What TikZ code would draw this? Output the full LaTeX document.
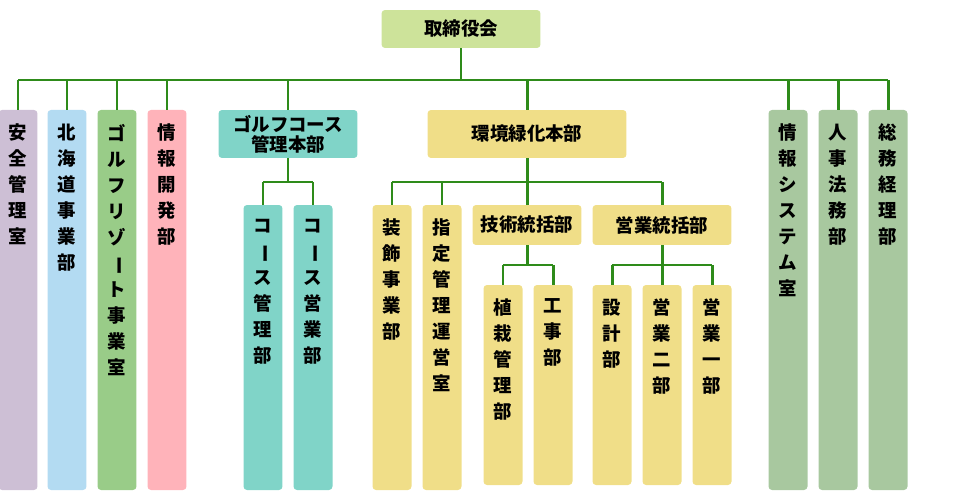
\documentclass[tikz,border=0pt]{standalone}
\usepackage{fontspec}
\setmainfont{Noto Sans CJK JP}
\definecolor{boardgreen}{RGB}{205, 227, 154}
\definecolor{safelilac}{RGB}{205, 191, 213}
\definecolor{hokkaiblue}{RGB}{179, 219, 242}
\definecolor{resortgreen}{RGB}{153, 204, 136}
\definecolor{infopink}{RGB}{255, 179, 186}
\definecolor{courseteal}{RGB}{128, 212, 200}
\definecolor{envyellow}{RGB}{240, 222, 136}
\definecolor{staffsage}{RGB}{168, 200, 159}
\definecolor{linegreen}{RGB}{46, 139, 26}
\usetikzlibrary{positioning, calc}
\newcommand{\vbar}{\rotatebox[origin=c]{-90}{ー}}
% column box: name, x, top, bottom, colour, text
\newcommand{\orgcol}[6]{%
  \node[colbox, fill=#5, minimum height={(#4-#3)*0.02cm}] (#1) at (#2,{(#3+#4)/2}) {};
  \node[coltext] (#1t) at ([yshift=-0.16cm]#1.north) {#6};}
\begin{document}
\begin{tikzpicture}[x=0.02cm, y=-0.02cm,
  colbox/.style={rounded corners=2pt, minimum width=0.78cm, inner sep=0pt},
  coltext/.style={anchor=north, align=center, font=\fontsize{10.5}{14.8}\selectfont\bfseries},
  headbox/.style={rounded corners=2pt, inner sep=0pt, align=center,
    font=\fontsize{10.5}{11.5}\selectfont\bfseries},
  conn/.style={linegreen, line width=1.7pt}]
\useasboundingbox (0,0) rectangle (960,500);

% Board
\node[headbox, fill=boardgreen, minimum width=3.18cm, minimum height=0.76cm] (board) at (461,29) {取締役会};

% First level columns
\orgcol{safe}{18}{110}{490}{safelilac}{安\\全\\管\\理\\室}
\orgcol{hokkai}{67}{110}{490}{hokkaiblue}{北\\海\\道\\事\\業\\部}
\orgcol{resort}{117}{110}{490}{resortgreen}{ゴ\\ル\\フ\\リ\\ゾ\\\vbar\\ト\\事\\業\\室}
\orgcol{infodev}{167}{110}{490}{infopink}{情\\報\\開\\発\\部}
\node[headbox, fill=courseteal, minimum width=2.78cm, minimum height=0.96cm] (course) at (288,134) {ゴルフコース\\管理本部};
\node[headbox, fill=envyellow, minimum width=3.98cm, minimum height=0.96cm] (env) at (527,134) {環境緑化本部};
\orgcol{infosys}{788}{110}{490}{staffsage}{情\\報\\シ\\ス\\テ\\ム\\室}
\orgcol{legal}{838}{110}{490}{staffsage}{人\\事\\法\\務\\部}
\orgcol{general}{888}{110}{490}{staffsage}{総\\務\\経\\理\\部}

% Golf course divisions
\orgcol{cmanage}{263}{205}{490}{courseteal}{コ\\\vbar\\ス\\管\\理\\部}
\orgcol{csales}{313}{205}{490}{courseteal}{コ\\\vbar\\ス\\営\\業\\部}

% Environment divisions
\orgcol{decor}{392}{205}{490}{envyellow}{装\\飾\\事\\業\\部}
\orgcol{park}{442}{205}{490}{envyellow}{指\\定\\管\\理\\運\\営\\室}
\node[headbox, fill=envyellow, minimum width=2.18cm, minimum height=0.8cm] (tech) at (527,225) {技術統括部};
\node[headbox, fill=envyellow, minimum width=2.78cm, minimum height=0.8cm] (sales) at (662,225) {営業統括部};
\orgcol{plant}{503}{285}{485}{envyellow}{植\\栽\\管\\理\\部}
\orgcol{works}{553}{285}{485}{envyellow}{工\\事\\部}
\orgcol{design}{612}{285}{485}{envyellow}{設\\計\\部}
\orgcol{sales2}{662}{285}{485}{envyellow}{営\\業\\二\\部}
\orgcol{sales1}{712}{285}{485}{envyellow}{営\\業\\一\\部}

% Connectors
\coordinate (bus) at (461,80);
\draw[conn] (board.south) -- (bus);
\draw[conn] (safe.north |- bus) -- (general.north |- bus);
\foreach \n in {safe, hokkai, resort, infodev, course, env, infosys, legal, general}
  \draw[conn] (\n.north) -- (\n.north |- bus);

\coordinate (cbus) at (288,182);
\draw[conn] (course.south) -- (cbus);
\draw[conn] (cmanage.north |- cbus) -- (csales.north |- cbus);
\foreach \n in {cmanage, csales}
  \draw[conn] (\n.north) -- (\n.north |- cbus);

\coordinate (ebus) at (527,182);
\draw[conn] (env.south) -- (ebus);
\draw[conn] (decor.north |- ebus) -- (sales.north |- ebus);
\foreach \n in {decor, park, tech, sales}
  \draw[conn] (\n.north) -- (\n.north |- ebus);

\coordinate (tbus) at (527,265);
\draw[conn] (tech.south) -- (tbus);
\draw[conn] (plant.north |- tbus) -- (works.north |- tbus);
\foreach \n in {plant, works}
  \draw[conn] (\n.north) -- (\n.north |- tbus);

\coordinate (sbus) at (662,265);
\draw[conn] (sales.south) -- (sbus);
\draw[conn] (design.north |- sbus) -- (sales1.north |- sbus);
\foreach \n in {design, sales2, sales1}
  \draw[conn] (\n.north) -- (\n.north |- sbus);
\end{tikzpicture}
\end{document}
